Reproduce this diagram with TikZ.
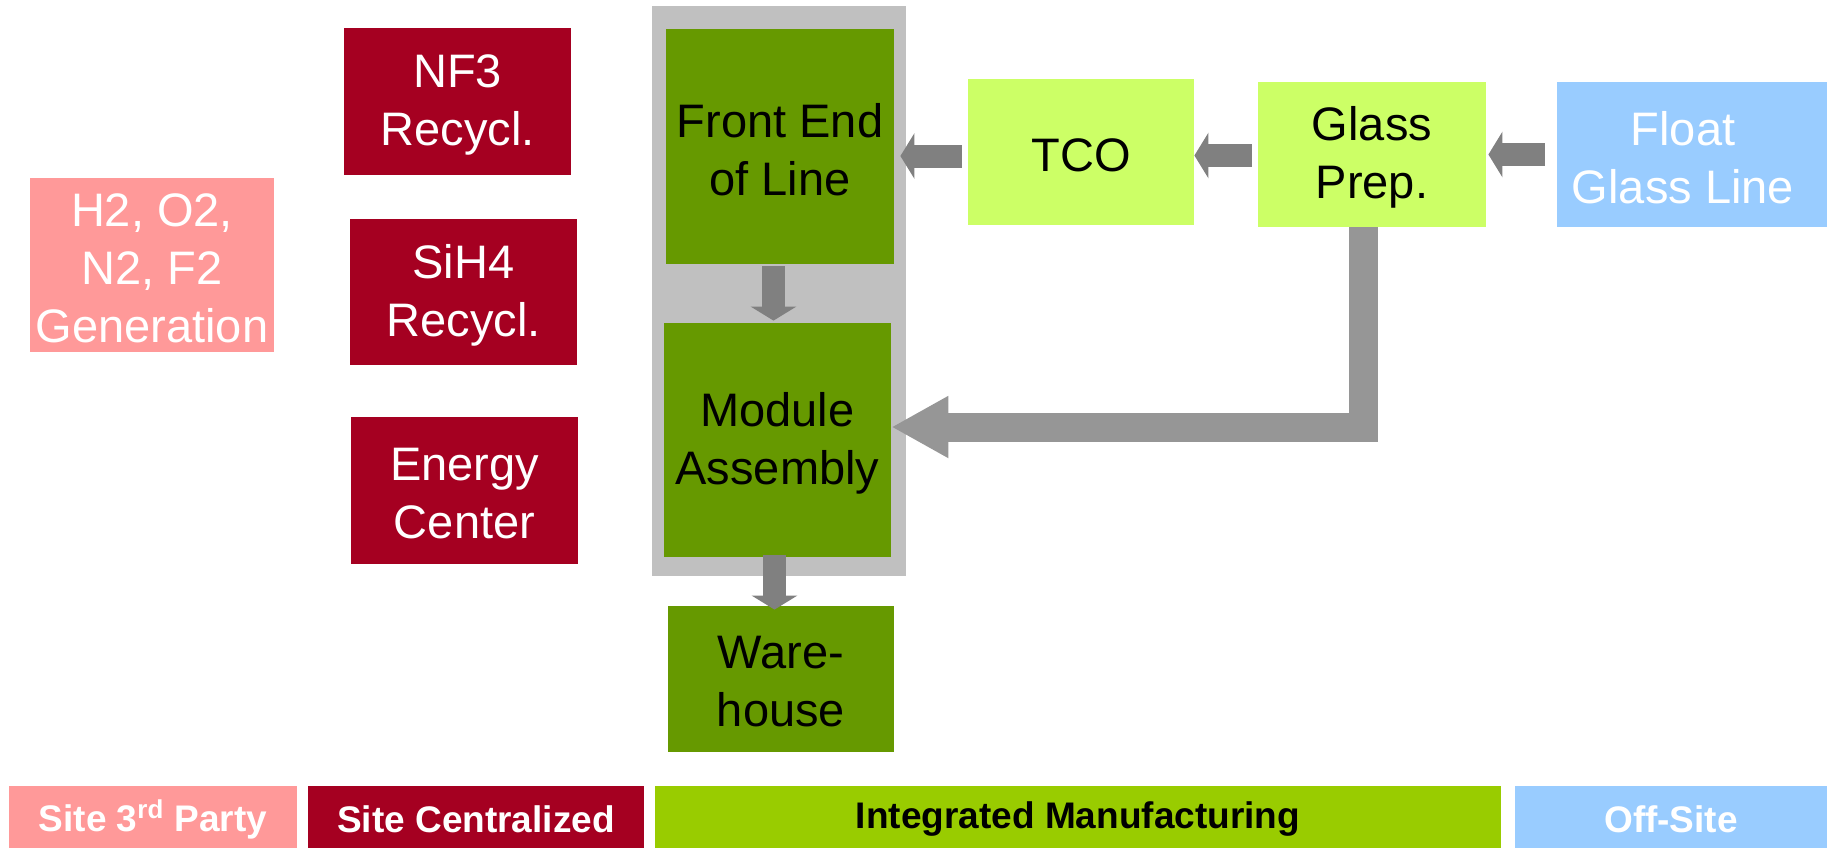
\documentclass[tikz,border=0pt]{standalone}
\usepackage{fontspec}
\setmainfont{Liberation Sans}
\usetikzlibrary{arrows.meta}
\definecolor{sitered}{HTML}{A50021}
\definecolor{sitepink}{HTML}{FF9999}
\definecolor{darkgreen}{HTML}{669900}
\definecolor{lightgreen}{HTML}{CCFF66}
\definecolor{legendgreen}{HTML}{99CC00}
\definecolor{offblue}{HTML}{99CCFF}
\definecolor{panelgray}{HTML}{C0C0C0}
\definecolor{arrgray}{HTML}{808080}
\definecolor{biggray}{HTML}{969696}
\begin{document}
\begin{tikzpicture}[x=0.5pt,y=-0.5pt,
  txt/.style={inner sep=0pt, align=center, font=\fontsize{23.5}{29}\selectfont},
  box/.style={inner sep=0pt},
  tbw/.style={label={[txt,text=white,yshift=-1.5pt]center:#1}},
  tbk/.style={label={[txt,text=black,yshift=-1.5pt]center:#1}},
  redbox/.style={box, fill=sitered},
  pinkbox/.style={box, fill=sitepink},
  greenbox/.style={box, fill=darkgreen},
  lgbox/.style={box, fill=lightgreen},
  bluebox/.style={box, fill=offblue},
  legend/.style={inner sep=0pt, minimum height=31pt},
  ltxt/.style={inner sep=0pt, yshift=-1.2pt, font=\fontsize{18.5}{22}\selectfont\bfseries},
  ltw/.style={label={[ltxt,text=white]center:#1}},
  ltk/.style={label={[ltxt,text=black]center:#1}},
  arr/.style={draw=arrgray, line width=11.5pt, -{Triangle[width=22.5pt,length=7pt]}},
  bigarr/.style={draw=biggray, line width=14.5pt, line join=miter, -{Triangle[width=29pt,length=28.5pt]}}
]
\useasboundingbox (0,0) rectangle (1827,848);
% panel
\node[fill=panelgray, inner sep=0pt, minimum width=127pt, minimum height=285pt] (panel) at (779,291) {};
% left boxes
\node[pinkbox, minimum width=122pt, minimum height=87pt, tbw={H2, O2,\\N2, F2\\Generation}] (gen) at (152,265) {};
\node[redbox, minimum width=113.5pt, minimum height=73.5pt, tbw={NF3\\Recycl.}] (nf3) at (457.5,101.5) {};
\node[redbox, minimum width=113.5pt, minimum height=73pt, tbw={SiH4\\Recycl.}] (sih4) at (463.5,292) {};
\node[redbox, minimum width=113.5pt, minimum height=73.5pt, tbw={Energy\\Center}] (energy) at (464.5,490.5) {};
% manufacturing
\node[greenbox, minimum width=114pt, minimum height=117.5pt, tbk={Front End\\of Line}] (feol) at (780,146.5) {};
\node[greenbox, minimum width=113.5pt, minimum height=117pt, tbk={Module\\Assembly}] (module) at (777.5,440) {};
\node[greenbox, minimum width=113pt, minimum height=73pt, tbk={Ware-\\house}] (ware) at (781,679) {};
\node[lgbox, minimum width=113pt, minimum height=73pt, tbk={TCO}] (tco) at (1081,152) {};
\node[lgbox, minimum width=114pt, minimum height=72.5pt, tbk={Glass\\Prep.}] (glass) at (1372,154.5) {};
\node[bluebox, minimum width=135pt, minimum height=72.5pt, label={[txt,text=white,xshift=-4.5pt,yshift=-1.5pt]center:Float\\Glass Line}] (float) at (1692,154.5) {};
% legend
\node[legend, fill=sitepink, minimum width=144pt, ltw={Site 3\textsuperscript{rd} Party}] (l1) at (153,817) {};
\node[legend, fill=sitered, minimum width=168pt, ltw={Site Centralized}] (l2) at (476,817) {};
\node[legend, fill=legendgreen, minimum width=423pt, ltk={Integrated Manufacturing}] (l3) at (1078,817) {};
\node[legend, fill=offblue, minimum width=156pt, ltw={Off-Site}] (l4) at (1671,817) {};
% arrows
\coordinate (t1) at ([shift={(-3pt,-2pt)}]tco.west);
\coordinate (feolR) at ([xshift=3pt]feol.east);
\draw[arr] (t1) -- (t1 -| feolR);
\coordinate (t2) at ([shift={(-3pt,-0.5pt)}]glass.west);
\draw[arr] (t2) -- (t2 -| tco.east);
\coordinate (t3) at ([xshift=-6pt]float.west);
\coordinate (glassR) at ([xshift=1pt]glass.east);
\draw[arr] (t3) -- (t3 -| glassR);
\coordinate (t4) at ([shift={(-3.25pt,-1pt)}]feol.south);
\coordinate (modT) at ([yshift=1pt]module.north);
\draw[arr] (t4) -- (t4 |- modT);
\coordinate (t5) at ([shift={(-1.5pt,1pt)}]module.south);
\coordinate (wareT) at ([yshift=-2pt]ware.north);
\draw[arr] (t5) -- (t5 |- wareT);
\draw[bigarr] ([xshift=-4.5pt]glass.south) |- ([yshift=6.5pt]module.east);
\end{tikzpicture}
\end{document}
